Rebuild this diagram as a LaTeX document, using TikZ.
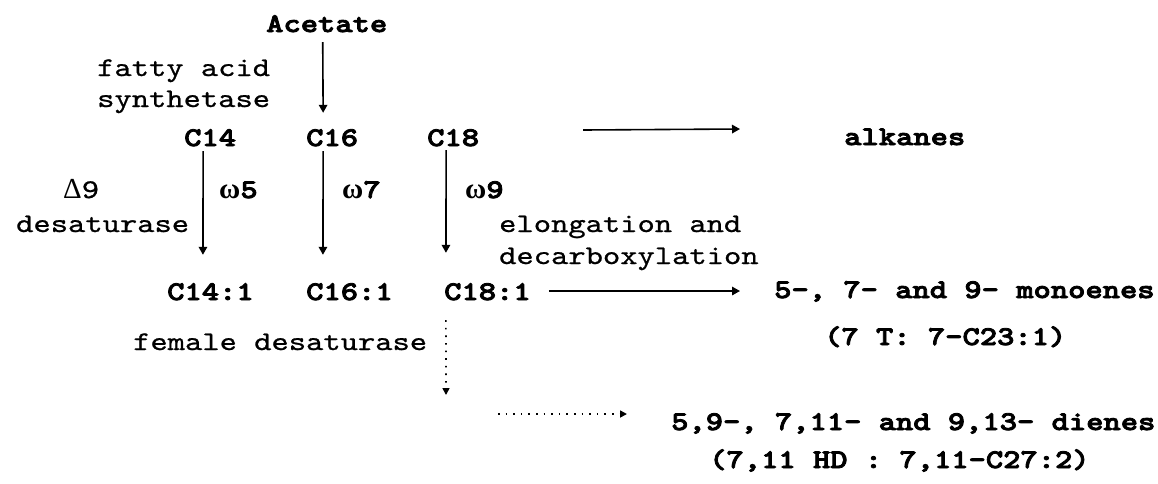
\documentclass[tikz,border=0pt]{standalone}
\usepackage{fontspec}
\setmainfont{lmmono10-regular.otf}[FakeStretch=1.22,FakeBold=0.8,BoldFont=lmmonolt10-bold.otf,BoldFeatures={FakeStretch=1.22,FakeBold=3}]
\newfontfamily\serf{Liberation Serif}
\usetikzlibrary{arrows.meta}
\begin{document}
\begin{tikzpicture}[x=1pt,y=1pt,
  txt/.style={inner sep=0pt,anchor=base west,text height=17pt,text depth=0pt,font=\fontsize{27}{31}\selectfont},
  bld/.style={txt,font=\fontsize{27}{31}\selectfont\bfseries},
  arr/.style={line width=1.6pt,-{Triangle[length=8pt,width=8.5pt]}},
  darr/.style={line width=1.6pt,dash pattern=on 1.6pt off 6pt,-{Triangle[length=7pt,width=7pt]}}]
\useasboundingbox (0,0) rectangle (1158,-483);
% nodes
\node[bld] (ace) at (266,-32) {Acetate};
\node[txt] (fas1) at (97,-76) {fatty acid};
\node[txt] (fas2) at (97,-107) {synthetase};
\node[bld] (c14) at (184,-146) {C14};
\node[bld] (c16) at (306,-146) {C16};
\node[bld] (c18) at (427,-146) {C18};
\node[bld] (alk) at (844,-145) {alkanes};
\node[txt] (d9) at (63,-198) {{\serf\fontsize{29}{31}\selectfont Δ}9};
\node[bld] (w5) at (219,-198) {{\serf\bfseries\fontsize{29}{31}\selectfont ω}5};
\node[bld] (w7) at (342,-198) {{\serf\bfseries\fontsize{29}{31}\selectfont ω}7};
\node[bld] (w9) at (465,-198) {{\serf\bfseries\fontsize{29}{31}\selectfont ω}9};
\node[txt] (desat) at (16,-232) {desaturase};
\node[txt] (elong) at (499,-232) {elongation and};
\node[txt] (decarb) at (499,-264) {decarboxylation};
\node[bld] (c141) at (167,-300) {C14:1};
\node[bld] (c161) at (306,-300) {C16:1};
\node[bld] (c181) at (444,-300) {C18:1};
\node[txt] (fem) at (133,-350) {female desaturase};
\node[bld] (mono) at (774,-298) {5-, 7- and 9- monoenes};
\node[bld] (t7) at (824,-345) {(7 T: 7-C23:1)};
\node[bld] (dien) at (671,-430) {5,9-, 7,11- and 9,13- dienes};
\node[bld] (hd) at (709,-468) {(7,11 HD : 7,11-C27:2)};
\coordinate (dend) at (446,-395);
\coordinate (hstart) at (498,-414);
% connectors
\draw[arr] ([xshift=-4pt,yshift=-10pt]ace.south) -- ([xshift=-9pt,yshift=16pt]c16.north);
\draw[arr] ([xshift=-7pt,yshift=-5pt]c14.south) -- ([xshift=-7.5pt,yshift=28pt]c141.north);
\draw[arr] ([xshift=-9pt,yshift=-5pt]c16.south) -- ([xshift=-26.5pt,yshift=28pt]c161.north);
\draw[arr] ([xshift=-7pt,yshift=-4pt]c18.south) -- ([xshift=-41.5pt,yshift=30pt]c181.north);
\draw[arr] ([xshift=103.8pt,yshift=7.5pt]c18.east) -- ([xshift=-104pt,yshift=7.5pt]alk.west);
\draw[arr] ([xshift=18pt,yshift=0.5pt]c181.east) -- ([xshift=-34pt,yshift=-1.5pt]mono.west);
\draw[darr] ([xshift=-41.5pt,yshift=-20pt]c181.south) -- (dend);
\draw[darr] (hstart) -- ([xshift=-44pt,yshift=7.5pt]dien.west);
\end{tikzpicture}
\end{document}
